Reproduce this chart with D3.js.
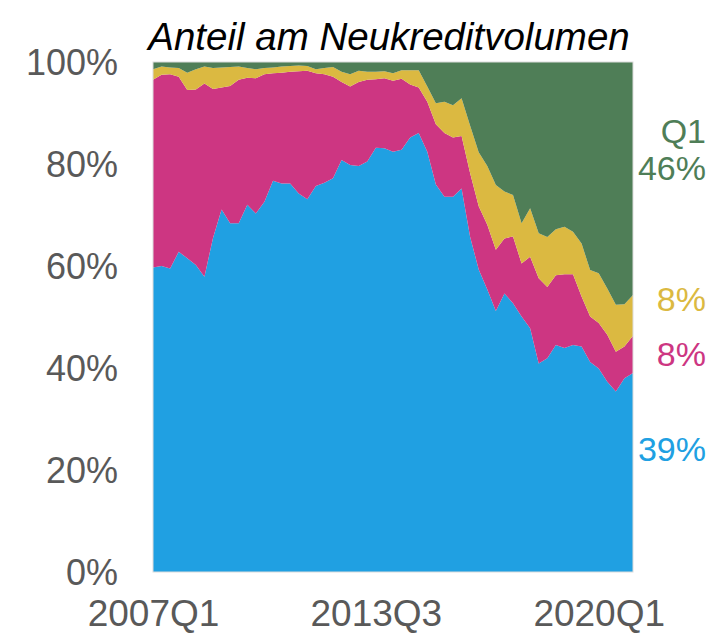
<!DOCTYPE html>
<html>
<head>
<meta charset="utf-8">
<script src="https://cdn.jsdelivr.net/npm/d3@7"></script>
<style>
  body { margin: 0; background: #fff; }
  svg text { font-family: "Liberation Sans", Arial, sans-serif; }
</style>
</head>
<body>
<svg id="chart" width="710" height="634"></svg>
<script>
// quarters 2007Q1 .. 2021Q1
var quarters = [];
for (var yr = 2007; yr <= 2021; yr++) {
  for (var q = 1; q <= 4; q++) {
    if (yr === 2021 && q > 1) break;
    quarters.push(yr + "Q" + q);
  }
}

var tickQuarters = ["2007Q1", "2013Q3", "2020Q1"];
var yTicks = [0, 20, 40, 60, 80, 100];

// shares in % (bottom to top)
var blau = [59.7, 60.0, 59.5, 62.8, 61.5, 60.2, 57.9, 65.5, 71.1, 68.4,
  68.4, 72.0, 70.3, 72.6, 76.7, 76.2, 76.2, 74.2, 73.1, 75.7,
  76.3, 77.2, 80.8, 79.8, 79.6, 80.5, 83.2, 83.1, 82.4, 82.8,
  85.2, 86.1, 82.4, 76.0, 73.6, 73.6, 75.2, 65.7, 59.3, 55.4,
  51.2, 54.6, 52.7, 50.1, 47.8, 40.9, 41.9, 44.5, 43.9, 44.5,
  44.2, 41.2, 39.9, 37.3, 35.4, 38.0, 39.0];
var magenta = [36.8, 37.5, 38.1, 34.3, 33.0, 34.4, 37.9, 29.2, 23.9, 26.9,
  28.1, 24.9, 26.5, 25.0, 21.1, 21.7, 21.9, 24.0, 25.2, 22.1,
  21.3, 19.9, 15.3, 15.4, 16.5, 16.0, 13.4, 13.7, 13.9, 13.9,
  10.4, 8.9, 9.8, 11.8, 12.5, 11.6, 10.3, 12.5, 12.4, 12.7,
  12.0, 10.8, 13.1, 10.4, 14.0, 16.7, 14.0, 13.7, 14.5, 13.9,
  9.8, 8.9, 8.9, 9.2, 7.8, 6.2, 7.3];
var gelb = [2.1, 1.6, 1.3, 1.7, 3.4, 4.0, 3.3, 4.1, 3.9, 3.7,
  2.6, 1.9, 1.8, 1.2, 1.1, 1.2, 1.1, 1.1, 0.9, 0.8,
  1.2, 1.9, 2.0, 2.4, 2.2, 1.6, 1.5, 1.4, 1.5, 1.7,
  2.8, 3.4, 3.0, 4.1, 6.1, 6.3, 7.4, 9.3, 10.6, 11.5,
  12.7, 9.2, 8.1, 7.9, 9.5, 8.8, 9.8, 9.0, 9.3, 8.3,
  10.4, 9.1, 9.8, 9.1, 9.2, 8.3, 8.0];
var gruen = [1.4, 0.9, 1.1, 1.2, 2.1, 1.4, 0.9, 1.2, 1.1, 1.0,
  0.9, 1.2, 1.4, 1.2, 1.1, 0.9, 0.8, 0.7, 0.8, 1.4,
  1.2, 1.0, 1.9, 2.4, 1.7, 1.9, 1.9, 1.8, 2.2, 1.6,
  1.6, 1.6, 4.8, 8.1, 7.8, 8.5, 7.1, 12.5, 17.7, 20.4,
  24.1, 25.4, 26.1, 31.6, 28.7, 33.6, 34.3, 32.8, 32.3, 33.3,
  35.6, 40.8, 41.4, 44.4, 47.6, 47.5, 45.7];

var keys = ["blau", "magenta", "gelb", "gruen"];
var colors = { blau: "#20a0e2", magenta: "#cd3682", gelb: "#dbb941", gruen: "#4f7e57" };
var endLabels = [
  { key: "gruen", lines: ["Q1", "46%"], y: [143, 180] },
  { key: "gelb", lines: ["8%"], y: [311] },
  { key: "magenta", lines: ["8%"], y: [366] },
  { key: "blau", lines: ["39%"], y: [461] }
];

var rows = quarters.map(function(q, i) {
  return { q: q, blau: blau[i], magenta: magenta[i], gelb: gelb[i], gruen: gruen[i] };
});

var svg = d3.select("#chart");
var plotLeft = 153, plotRight = 633, plotTop = 62, plotBottom = 572;

var x = d3.scalePoint().domain(quarters).range([plotLeft, plotRight]);
var y = d3.scaleLinear().domain([0, 100]).range([plotBottom, plotTop]);

var series = d3.stack().keys(keys)(rows);

// top layer is clipped at 100%
var area = d3.area()
  .x(function(d) { return x(d.data.q); })
  .y0(function(d) { return y(d[0]); })
  .y1(function(d) { return y(Math.min(100, d[1])); });

svg.append("g")
  .selectAll("path")
  .data(series)
  .enter()
  .append("path")
  .attr("fill", function(d) { return colors[d.key]; })
  .attr("d", area);

// green fills the rest up to 100%
svg.append("path")
  .attr("fill", colors.gruen)
  .attr("d", d3.area()
    .x(function(d) { return x(d.data.q); })
    .y0(function(d) { return y(Math.min(100, d[1])); })
    .y1(y(100))(series[3]));

svg.append("rect")
  .attr("x", plotLeft).attr("y", plotTop)
  .attr("width", plotRight - plotLeft).attr("height", plotBottom - plotTop)
  .attr("fill", "none")
  .attr("stroke", "#dcdcdc")
  .attr("stroke-width", 1);

// y axis
var yAxis = svg.append("g")
  .attr("transform", "translate(" + (plotLeft - 35) + ",0)")
  .call(d3.axisLeft(y).tickValues(yTicks).tickSize(0).tickPadding(0)
    .tickFormat(function(d) { return d + "%"; }));
yAxis.select(".domain").remove();
yAxis.selectAll("text")
  .attr("fill", "#595959")
  .style("font-size", "36px")
  .attr("dy", "0.36em");

// x axis labels
var xAxis = svg.append("g")
  .attr("transform", "translate(0," + plotBottom + ")")
  .call(d3.axisBottom(x).tickValues(tickQuarters).tickSize(0).tickPadding(0));
xAxis.select(".domain").remove();
xAxis.selectAll("text")
  .attr("fill", "#595959")
  .style("font-size", "37px")
  .attr("y", 0)
  .attr("dy", 54);

// title
svg.append("text")
  .attr("x", (plotLeft + plotRight) / 2 - 4)
  .attr("y", 50)
  .attr("text-anchor", "middle")
  .style("font-size", "38.5px")
  .style("font-style", "italic")
  .attr("fill", "#000")
  .text("Anteil am Neukreditvolumen");

// end labels
endLabels.forEach(function(l) {
  l.lines.forEach(function(t, j) {
    svg.append("text")
      .attr("x", 706)
      .attr("y", l.y[j])
      .attr("text-anchor", "end")
      .style("font-size", "34px")
      .attr("fill", colors[l.key])
      .text(t);
  });
});
</script>
</body>
</html>
